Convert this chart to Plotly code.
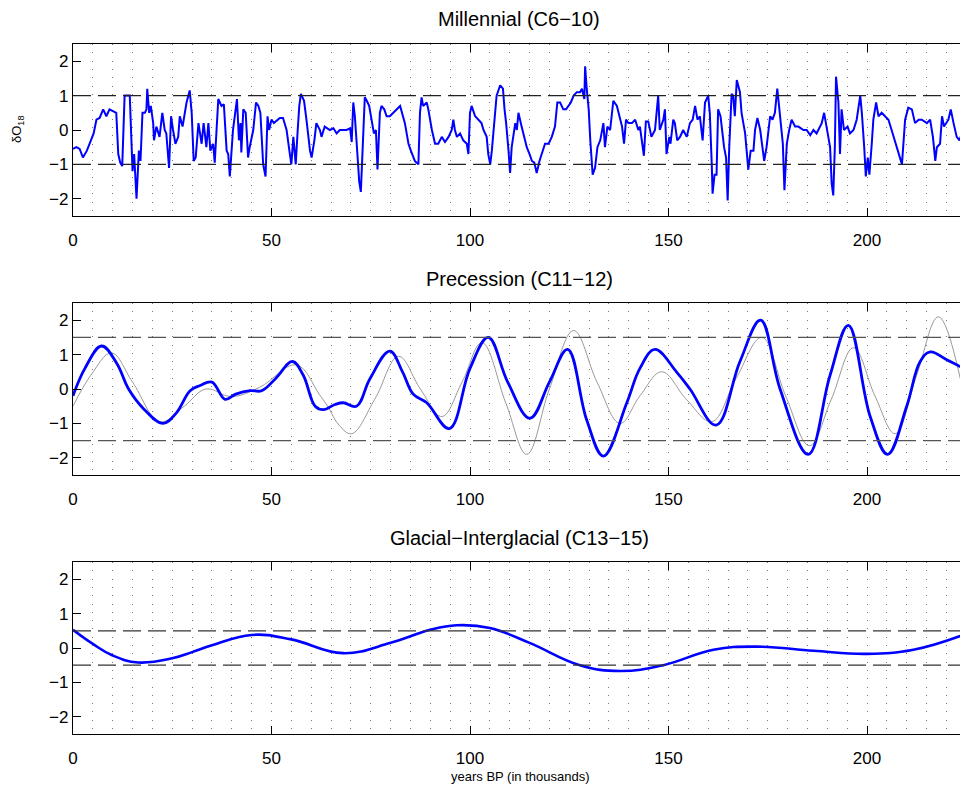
import plotly.graph_objects as go

# --- millennial band (C6-10) ---
t_mill = [0, 0.84, 1.68, 2.5, 3.5, 4.4, 5.2, 5.9, 6.7, 7.6, 8.4, 9.2, 10.1, 10.9, 11.4, 11.9, 12.4,
          13.0, 14.3, 15.0, 15.4, 15.6, 16.0, 16.6, 17.0, 17.5, 18.1, 18.5, 18.7, 19.2, 19.6, 20.2,
          20.4, 21.0, 21.8, 22.3, 22.5, 23.1, 23.5, 24.2, 24.7, 25.2, 25.8, 26.5, 26.9, 27.6, 28.6,
          29.4, 29.9, 30.4, 30.9, 31.6, 32.4, 32.9, 33.6, 34.1, 34.6, 35.3, 35.7, 36.6, 37.4, 38.0,
          38.7, 39.1, 39.5, 40.3, 40.8, 41.3, 41.8, 42.2, 42.4, 42.9, 43.5, 43.9, 44.1, 44.5, 45.4,
          46.1, 46.7, 47.2, 47.9, 48.5, 49.0, 49.4, 50.0, 50.6, 52.1, 52.9, 53.8, 54.5, 55.0, 55.5,
          56.1, 56.6, 57.0, 57.4, 58.2, 58.8, 59.7, 60.1, 60.8, 61.3, 62.2, 62.6, 63.4, 64.7,
          65.6, 66.4, 67.2, 68.9, 69.8, 70.2, 70.6, 71.0, 71.6, 72.1, 72.5, 72.8, 73.1, 73.5, 74.0,
          74.6, 75.2, 75.8, 76.3, 76.7, 77.3, 77.7, 78.4, 79.0, 79.8, 80.7, 82.4, 83.6, 84.5, 85.1,
          86.1, 87.0, 87.4, 87.8, 88.2, 89.1, 89.5, 90.4, 91.2, 92.0, 92.9, 93.7, 94.6, 95.4, 95.8,
          96.2, 96.7, 97.5, 98.3, 99.2, 99.6, 100.0, 100.4, 101.3, 102.1, 102.9, 103.4, 104.2,
          104.6, 105.1, 105.5, 105.9, 106.7, 107.6, 108.3, 108.7, 109.1, 109.7, 110.1, 110.5,
          111.4, 111.8, 112.2, 113.0, 113.6, 114.3, 115.0, 115.6, 116.2, 116.8, 117.5, 118.3,
          118.9, 119.8, 120.6, 121.4, 122.0, 122.7, 123.5, 124.2, 124.8, 125.4, 126.1, 126.9,
          127.7, 128.2, 128.8, 129.0, 129.4, 129.9, 130.3, 130.9, 131.5, 132.1, 132.8, 133.6,
          134.0, 134.6, 135.3, 136.1, 137.0, 137.8, 138.3, 138.8, 139.3, 139.9, 140.8, 141.6,
          142.4, 142.8, 143.2, 143.8, 144.3, 144.9, 145.7, 146.6, 147.4, 147.8, 148.7, 149.1,
          149.5, 150.2, 150.5, 151.2, 151.6, 152.2, 152.9, 153.7, 154.6, 155.4, 156.1, 156.7,
          157.3, 157.9, 158.6, 159.2, 160.0, 160.4, 160.9, 161.1, 161.6, 162.1, 162.5, 163.1,
          164.0, 164.5, 164.9, 165.3, 165.9, 166.3, 166.7, 167.2, 168.0, 168.4, 169.3, 170.1,
          170.7, 171.4, 171.8, 172.4, 173.1, 174.1, 174.7, 175.6, 176.2, 176.8, 177.4, 178.1,
          178.8, 179.2, 179.8, 180.4, 181.0, 181.9, 182.7, 184.0, 184.8, 185.7, 186.5, 187.3,
          188.6, 189.2, 189.9, 190.7, 191.1, 191.5, 191.9, 192.2, 192.8, 193.2, 193.6, 194.2,
          195.1, 195.7, 196.6, 197.4, 198.3, 198.7, 199.3, 199.7, 200.2, 200.6, 201.2, 201.6,
          202.3, 202.9, 203.7, 204.6, 205.4, 206.2, 207.5, 208.2, 208.8, 209.6, 210.4, 211.3,
          212.1, 213.0, 213.8, 215.1, 215.9, 216.6, 217.2, 217.6, 218.4, 218.9, 219.4, 220.5,
          221.1, 221.8, 222.6, 223.3, 223.9]
d_mill = [-0.55, -0.5, -0.55, -0.8, -0.6, -0.3, -0.1, 0.3, 0.35, 0.6, 0.4, 0.6, 0.55, 0.5, -0.7,
          -0.95, -1.05, 1.0, 1.0, -1.2, -0.7, -1.3, -2.0, -0.6, -0.9, 0.5, 0.5, 0.6, 1.2, 0.5, 0.7,
          0.2, -0.3, 0.1, -0.2, 0.3, 0.5, 0.0, -0.1, -1.1, 0.4, 0.0, -0.4, -0.2, 0.4, 0.1, 0.8,
          1.15, 0.5, -0.9, -0.8, 0.2, -0.4, 0.2, -0.5, 0.2, -0.6, -0.4, -0.95, 0.9, 0.7, 0.75,
          -0.6, -0.7, -1.35, 0.0, 0.5, 0.9, -0.3, 0.2, -0.65, 0.6, 0.5, -0.3, -0.8, -0.5, 0.0,
          0.8, 0.7, 0.5, -1.0, -1.35, 0.4, 0.0, 0.3, 0.2, 0.35, 0.35, 0.0, -0.6, -1.0, -0.2,
          -1.0, 0.0, 0.7, 1.05, 0.85, 0.3, -0.6, -0.8, -0.3, 0.2, 0.0, -0.2, 0.1, 0.0,
          0.05, -0.1, 0.0, 0.0, 0.05, -0.35, 0.8, 0.4, -0.5, -1.5, -1.8, -0.8, 0.0, 0.95, 0.85,
          0.7, 0.3, -0.1, 0.0, -1.15, 0.5, 0.7, 0.6, 0.4, 0.4, 0.5, 0.7, 0.2, -0.4, -0.6,
          -0.9, -1.0, 0.5, 0.95, 0.7, 0.8, 0.6, 0.0, -0.4, -0.4, -0.2, -0.35, -0.2, 0.0, 0.3,
          0.0, -0.2, -0.1, -0.3, -0.4, -0.7, 0.5, 0.7, 0.4, 0.3, 0.2, 0.0, -0.2,
          -0.7, -1.0, -0.6, 0.0, 1.0, 1.3, 1.2, 0.6, 0.2, -0.6, -1.25, -0.5,
          0.2, 0.0, 0.5, 0.1, -0.2, -0.5, -0.7, -0.9, -0.95, -1.25, -0.9, -0.6,
          -0.4, -0.4, -0.2, 0.1, 0.8, 0.8, 0.6, 0.6, 0.7, 0.8, 1.0, 1.1,
          1.1, 1.2, 0.9, 1.85, 1.2, 0.6, -0.3, -1.3, -1.1, -0.5, -0.3, 0.2,
          -0.5, 0.1, 0.0, 0.85, 0.7, 0.3, 0.1, -0.4, 0.3, 0.2, 0.2, 0.3,
          0.0, 0.1, -0.2, -0.75, 0.25, 0.25, -0.2, 0.0, 1.0, 0.0, 0.3, 0.6,
          -0.7, -0.2, -0.4, 0.3, 0.2, -0.3, -0.2, 0.0, -0.2, 0.2, 0.3, 0.7,
          0.3, 0.4, -0.3, 0.8, 1.0, 0.5, -1.0, -1.85, -1.3, -1.3, 0.6, 0.4,
          -0.5, -0.8, -2.05, -0.5, 1.05, 1.0, 0.4, 1.45, 1.1, 0.5, -0.1, -1.15,
          -0.6, -0.6, 0.0, 0.35, 0.0, -0.9, -0.5, 0.4, 0.3, 0.5, 1.2, 0.4,
          -0.4, -1.75, -0.4, 0.0, 0.3, 0.1, 0.1, 0.0, 0.0, -0.15, 0.0, -0.1,
          0.2, 0.5, 0.0, -0.5, -1.55, -1.9, -0.5, 1.55, 0.8, -0.7, 0.6, 0.0,
          0.1, -0.1, 0.0, 0.3, 1.0, 0.5, -0.5, -1.35, -0.8, -1.3, -0.4, 0.3,
          0.8, 0.4, 0.5, 0.4, 0.3, 0.0, -0.5, -0.8, -1.0, 0.3, 0.65, 0.6,
          0.2, 0.3, 0.3, 0.2, 0.3, -0.2, -0.9, -0.5, -0.4, 0.4, 0.1, 0.3,
          0.6, 0.2, -0.2, -0.3, -0.1]

# --- precession band (C11-12): reconstruction (blue) and reference curve (grey) ---
t_prec = [0, 3, 7.2, 11, 14, 18, 22.7, 26, 29.5, 32, 35, 38.3, 41, 44.6, 47.5, 51, 55.3, 58, 61,
          63.1, 66, 68.1, 71.4, 74.8, 79.8, 83, 85.7, 89.1, 94.8, 100, 104.6, 109.5, 115.1, 120,
          124.6, 129.4, 133.6, 139.5, 142.8, 146.6, 152, 155.4, 162, 168, 173.2, 178.1, 185.2,
          190.7, 195.3, 200.8, 205.2, 210, 213.4, 215.9, 220.1, 223.5]
d_prec = [-0.2, 0.6, 1.25, 0.75, 0.0, -0.6, -1.0, -0.7, -0.05, 0.1, 0.2, -0.3, -0.15, -0.05,
          -0.05, 0.3, 0.8, 0.4, -0.5, -0.6, -0.45, -0.4, -0.5, 0.3, 1.1, 0.5, -0.15, -0.4, -1.15,
          0.6, 1.5, 0.2, -0.85, 0.2, 1.15, -0.9, -1.95, -0.4, 0.6, 1.15, 0.5, 0.0, -1.05, 0.8,
          2.0, 0.0, -1.9, 0.4, 1.85, -0.8, -1.9, -0.5, 0.8, 1.08, 0.85, 0.65]
t_ref = [0, 4.5, 9.7, 15, 21.9, 28, 33.5, 39.9, 47, 56.3, 62, 64.3, 67, 70.2, 76, 82, 87.5, 92.9,
         98, 103, 109, 114.3, 120, 126.1, 132, 137.8, 142.8, 148.3, 154.5, 160.9, 167, 173.5,
         179.5, 185.5, 191, 196.6, 202, 207.1, 212.5, 218, 223.5]
d_ref = [-0.5, 0.4, 1.05, 0.2, -0.95, -0.5, 0.0, -0.22, 0.05, 0.7, -0.15, -0.53, -1.05, -1.3,
         -0.3, 0.95, 0.0, -0.8, 0.2, 1.35, -0.4, -1.9, 0.0, 1.7, 0.2, -1.0, -0.2, 0.5, -0.3,
         -0.95, 0.3, 1.5, -0.2, -1.65, -0.3, 1.2, -0.2, -1.3, 0.4, 2.1, 0.3]

# --- glacial-interglacial band (C13-15) ---
t_glac = [0, 5, 10, 16.4, 25, 30, 35, 45, 55, 68, 80, 90, 96.6, 105, 115, 127.7, 137.8, 148.7,
          161.3, 172.2, 186.5, 200, 211.7, 223.5]
d_glac = [0.53, 0.12, -0.22, -0.42, -0.3, -0.12, 0.08, 0.38, 0.25, -0.15, 0.15, 0.53, 0.66,
          0.58, 0.15, -0.5, -0.67, -0.5, -0.05, 0.04, -0.08, -0.17, -0.05, 0.35]

titles = ["Millennial (C6\u221210)", "Precession (C11\u221212)", "Glacial\u2212Interglacial (C13\u221215)"]
thresholds = [1.0, 1.5, 0.5]
x_ticks = [0, 50, 100, 150, 200]
y_ticks = [-2, -1, 0, 1, 2]
y_ticktext = ["\u22122", "\u22121", "0", "1", "2"]

W, H = 960, 786
LEFT = 73
FONT = "Liberation Sans, Arial, Helvetica, sans-serif"
# panel pixel extents (top, bottom)
panels = [(44, 216), (303, 475), (562, 734)]
title_y = [19, 279, 538]
dash_colors = ["#222222", "#555555", "#333333"]

fig = go.Figure()
fig.add_trace(go.Scatter(x=t_mill, y=d_mill, mode="lines", line=dict(color="#0000ff", width=2),
                         xaxis="x", yaxis="y", showlegend=False))
fig.add_trace(go.Scatter(x=t_ref, y=d_ref, mode="lines", line=dict(color="#999999", width=1, shape="spline", smoothing=1.1),
                         xaxis="x2", yaxis="y2", showlegend=False))
fig.add_trace(go.Scatter(x=t_prec, y=d_prec, mode="lines", line=dict(color="#0000ff", width=2.8, shape="spline", smoothing=1.1),
                         xaxis="x2", yaxis="y2", showlegend=False))
fig.add_trace(go.Scatter(x=t_glac, y=d_glac, mode="lines", line=dict(color="#0000ff", width=2.6, shape="spline", smoothing=1.2),
                         xaxis="x3", yaxis="y3", showlegend=False))

xr = [0, (W - LEFT) / 3.97]
axis_common = dict(showline=True, linecolor="black", linewidth=1.4, ticks="inside", ticklen=8,
                   tickcolor="black", tickwidth=1, zeroline=False,
                   tickfont=dict(family=FONT, size=17, color="black"))
layout = dict(width=W, height=H, margin=dict(l=LEFT, r=0, t=0, b=0),
              plot_bgcolor="white", paper_bgcolor="white", showlegend=False)
shapes = []
annotations = []
for i, (top, bot) in enumerate(panels):
    n = "" if i == 0 else str(i + 1)
    dom = [1 - bot / H, 1 - top / H]
    layout["xaxis" + n] = dict(axis_common, domain=[0, 1], range=xr, anchor="y" + n,
                               tickvals=x_ticks, mirror="ticks", showgrid=True,
                               gridcolor="#777777", gridwidth=1, griddash="1px,7.3px",
                               minor=dict(dtick=5, tick0=0, showgrid=True, gridcolor="#777777",
                                          gridwidth=1, griddash="1px,7.3px"),
                               ticklabelstandoff=8)
    layout["yaxis" + n] = dict(axis_common, domain=dom, range=[-2.5, 2.5], anchor="x" + n,
                               tickvals=y_ticks, ticktext=y_ticktext, showgrid=False,
                               ticklabelstandoff=0)
    for sgn in (1, -1):
        shapes.append(dict(type="line", xref="x" + n + " domain", yref="y" + n,
                           x0=0, x1=1, y0=sgn * thresholds[i], y1=sgn * thresholds[i],
                           line=dict(color=dash_colors[i], width=1.3, dash="18px,7px")))
    annotations.append(dict(text=titles[i], xref="paper", yref="paper",
                            x=(519 - LEFT) / (W - LEFT), y=1 - title_y[i] / H,
                            xanchor="center", yanchor="middle", showarrow=False,
                            font=dict(family=FONT, size=20, color="black")))

annotations.append(dict(text="\u03b4O<sub>18</sub>", xref="paper", yref="paper",
                        x=(18 - LEFT) / (W - LEFT), y=1 - 130 / H, textangle=-90,
                        xanchor="center", yanchor="middle", showarrow=False,
                        font=dict(family=FONT, size=13, color="black")))
annotations.append(dict(text="years BP (in thousands)", xref="paper", yref="paper",
                        x=(520 - LEFT) / (W - LEFT), y=1 - 776 / H,
                        xanchor="center", yanchor="middle", showarrow=False,
                        font=dict(family=FONT, size=13, color="black")))
layout["shapes"] = shapes
layout["annotations"] = annotations
fig.update_layout(**layout)

# drop the page's default body margin so the figure sits at the window's corner
fig.write_html("out.html", config={"displayModeBar": False},
               post_script="document.body.style.margin='0';document.body.style.overflow='hidden';")
